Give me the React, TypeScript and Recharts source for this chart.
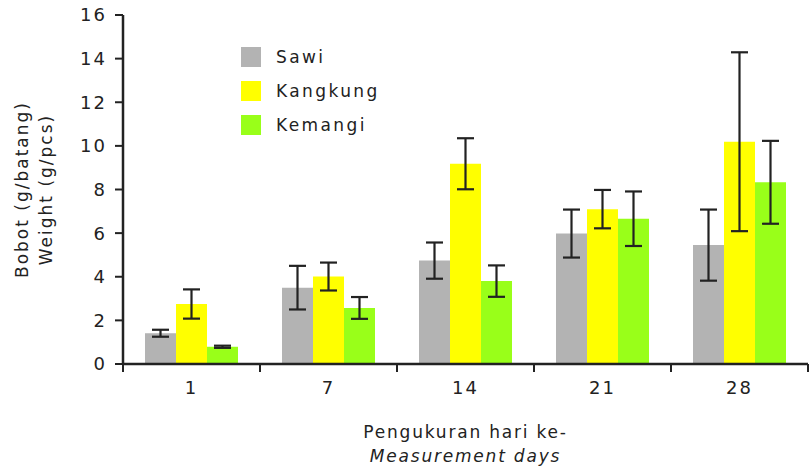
import { BarChart, Bar, XAxis, YAxis, ErrorBar } from 'recharts';

// ─── Data ─────────────────────────────────────────────────────────────────────

const days = ['1', '7', '14', '21', '28'];
const sawi = [1.41, 3.5, 4.74, 5.98, 5.45];
const sawiErr = [0.16, 1.0, 0.83, 1.1, 1.63];
const kangkung = [2.75, 4.01, 9.18, 7.1, 10.19];
const kangkungErr = [0.67, 0.64, 1.17, 0.88, 4.1];
const kemangi = [0.79, 2.57, 3.8, 6.66, 8.33];
const kemangiErr = [0.05, 0.5, 0.72, 1.25, 1.9];
const yTicks = [0, 2, 4, 6, 8, 10, 12, 14, 16];

const series = [
  { key: 'sawi', name: 'Sawi', color: '#b3b3b3' },
  { key: 'kangkung', name: 'Kangkung', color: '#ffff00' },
  { key: 'kemangi', name: 'Kemangi', color: '#99ff19' },
];

const chartData = days.map((d, i) => ({
  day: d,
  sawi: sawi[i],
  sawiErr: sawiErr[i],
  kangkung: kangkung[i],
  kangkungErr: kangkungErr[i],
  kemangi: kemangi[i],
  kemangiErr: kemangiErr[i],
}));

const FONT = '"DejaVu Sans", Verdana, sans-serif';
const INK = '#222222';
const TICK = 8;
const GAP = 9;

// ─── Legend & labels ──────────────────────────────────────────────────────────

function LegendBox() {
  return (
    <div
      style={{
        position: 'absolute', left: 241, top: 40,
        fontFamily: FONT, fontSize: 17, color: INK, letterSpacing: 2.4,
      }}
    >
      {series.map((s) => (
        <div key={s.key} style={{ display: 'flex', alignItems: 'center', height: 34 }}>
          <span style={{ width: 20, height: 20, background: s.color, display: 'inline-block', marginRight: 15 }} />
          {s.name}
        </div>
      ))}
    </div>
  );
}

function YLabel({ viewBox }: any) {
  const cy = viewBox.y + viewBox.height / 2;
  return (
    <g fontFamily={FONT} fontSize={17} fill={INK} textAnchor="middle" letterSpacing={2}>
      <text transform={`translate(28 ${cy}) rotate(-90)`}>Bobot (g/batang)</text>
      <text transform={`translate(52 ${cy}) rotate(-90)`}>Weight (g/pcs)</text>
    </g>
  );
}

function XLabel({ viewBox }: any) {
  const cx = viewBox.x + viewBox.width / 2;
  return (
    <g fontFamily={FONT} fontSize={17} fill={INK} textAnchor="middle" letterSpacing={1.8}>
      <text x={cx} y={438}>Pengukuran hari ke-</text>
      <text x={cx} y={462} fontStyle="italic">Measurement days</text>
    </g>
  );
}

// category label at centre, tick marks at band boundaries
function DayTick({ x, y, payload, index }: any) {
  const half = payload.offset ?? 0;
  const y1 = y - TICK - GAP;
  const y2 = y - GAP;
  return (
    <g>
      <line x1={x - half} x2={x - half} y1={y1} y2={y2} stroke={INK} strokeWidth={2} />
      {index === days.length - 1 && (
        <line x1={x + half} x2={x + half} y1={y1} y2={y2} stroke={INK} strokeWidth={2} />
      )}
      <text
        x={x} y={y} dy="0.71em" textAnchor="middle"
        fontFamily={FONT} fontSize={18} fill={INK} letterSpacing={2}
      >
        {payload.value}
      </text>
    </g>
  );
}

// ─── Chart ────────────────────────────────────────────────────────────────────

export default function App() {
  return (
    <div style={{ position: 'absolute', left: 0, top: 0, width: 811, height: 471, background: '#fff' }}>
      <BarChart
        width={811}
        height={471}
        data={chartData}
        margin={{ top: 15, right: 3, left: 0, bottom: 0 }}
        barCategoryGap={22}
        barGap={0}
      >
        <XAxis
          dataKey="day"
          height={107}
          tickLine={false}
          tickSize={TICK}
          tickMargin={GAP}
          interval={0}
          axisLine={{ stroke: INK, strokeWidth: 2.5 }}
          tick={<DayTick />}
          label={<XLabel />}
        />
        <YAxis
          domain={[0, 16]}
          ticks={yTicks}
          width={123}
          tickSize={8}
          tickMargin={8}
          axisLine={{ stroke: INK, strokeWidth: 2.5 }}
          tickLine={{ stroke: INK, strokeWidth: 2 }}
          tick={{ fontFamily: FONT, fontSize: 18, fill: INK, letterSpacing: 2 }}
          label={<YLabel />}
        />
        {series.map((s) => (
          <Bar
            key={s.key}
            dataKey={s.key}
            name={s.name}
            fill={s.color}
            isAnimationActive={false}
          >
            <ErrorBar dataKey={`${s.key}Err`} width={8.5} stroke={INK} strokeWidth={2.2} />
          </Bar>
        ))}
      </BarChart>
      <LegendBox />
    </div>
  );
}
